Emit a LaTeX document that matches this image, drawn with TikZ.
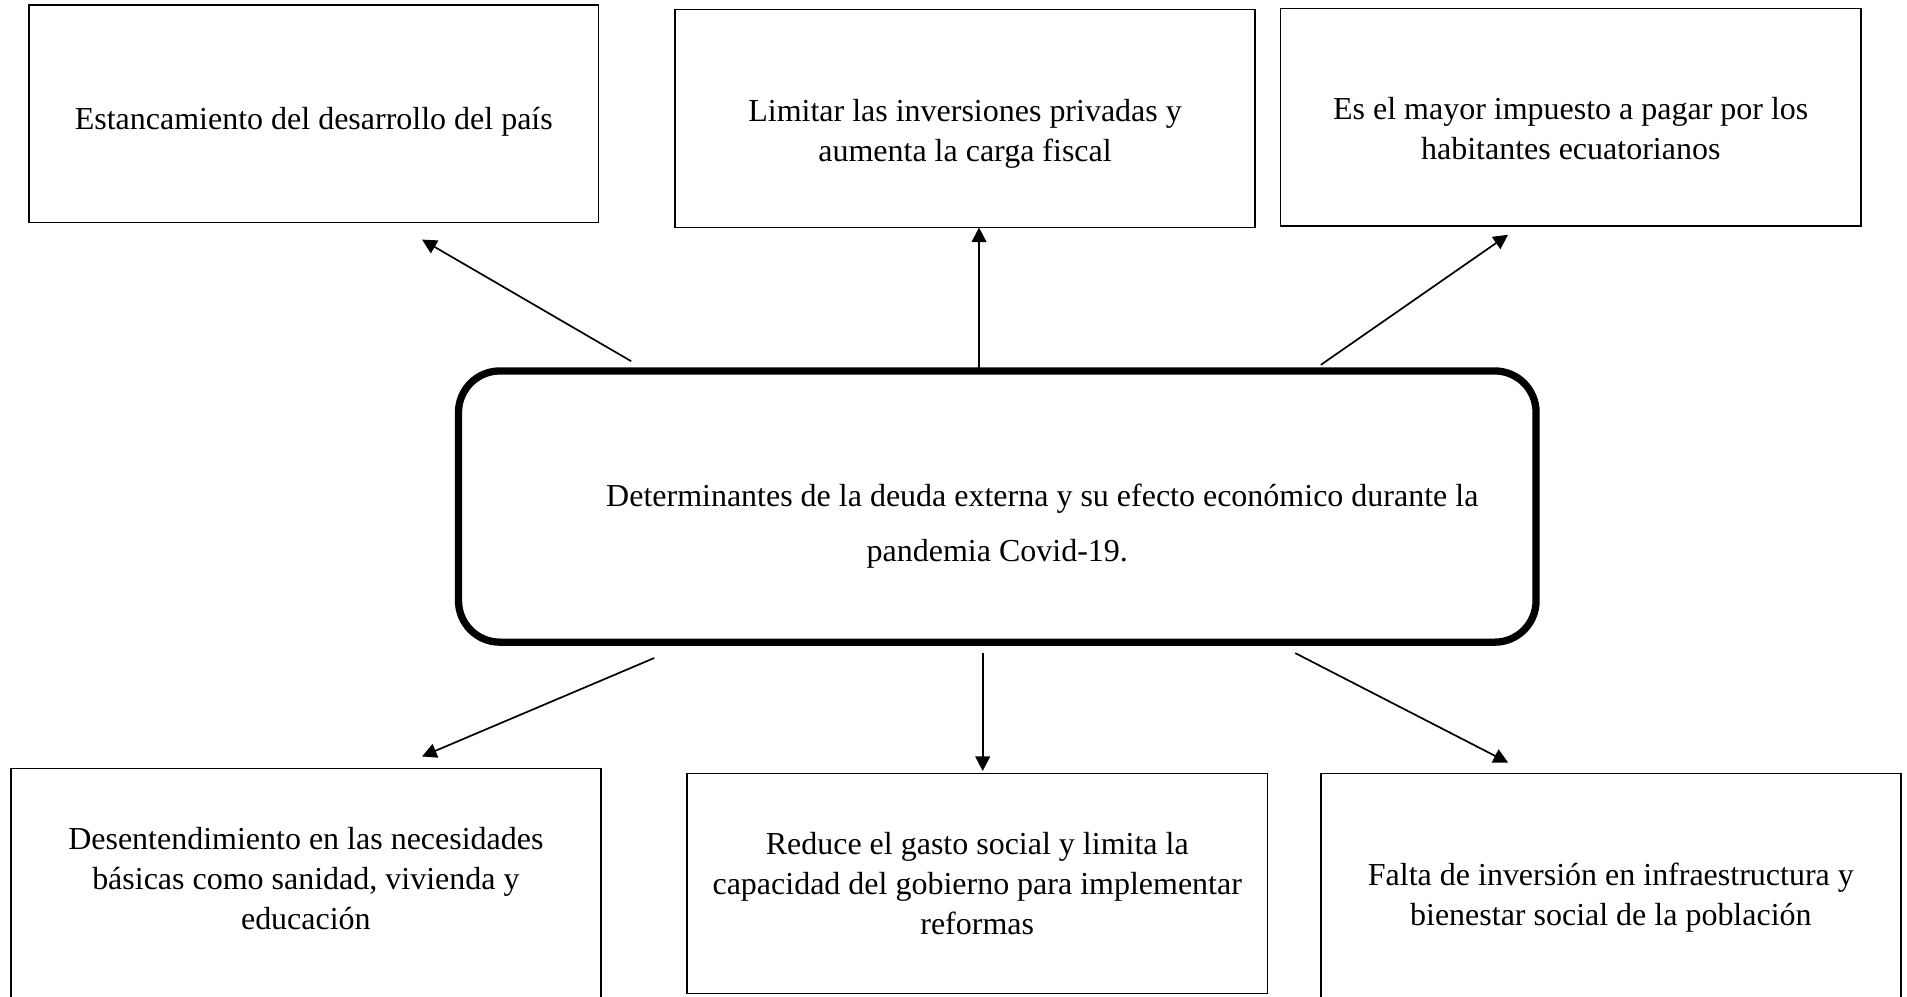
\documentclass[tikz,border=0pt]{standalone}
\usepackage{fontspec}
\setmainfont{Liberation Serif}
\usepackage{tikz}
\usetikzlibrary{shapes,arrows,positioning,calc,arrows.meta}

\begin{document}
\begin{tikzpicture}[x=0.5pt, y=0.5pt, outer sep=0pt,
    effect/.style={draw, rectangle, line width=0.6pt, inner sep=0pt, align=center, font=\fontsize{13.15}{16.5}\selectfont},
    core/.style={draw, rectangle, rounded corners=17pt, line width=3pt, inner sep=0pt, align=center, font=\fontsize{13.15}{22.5}\selectfont},
    padtop/.style={execute at begin node={\rule{0pt}{#1}}},
    padbot/.style={execute at end node={\rule[-#1]{0pt}{#1}}},
    link/.style={-{Triangle[length=6pt, width=6pt]}, line width=0.7pt}]
    \useasboundingbox (0,0) rectangle (1568,-819);
    \node [core, minimum width=443pt, minimum height=111.5pt, padtop=48pt] (deuda) at (820,-416.5) {\hspace*{37pt}Determinantes de la deuda externa y su efecto económico durante la\\ pandemia Covid-19.};
    \node [effect, minimum width=234pt, minimum height=89.5pt, padtop=15.5pt] (e1) at (258,-93.5) {Estancamiento del desarrollo del país};
    \node [effect, minimum width=238.5pt, minimum height=89.5pt, padtop=38pt] (e2) at (793.5,-97.5) {Limitar las inversiones privadas y\\ aumenta la carga fiscal};
    \node [effect, minimum width=238.5pt, minimum height=89.5pt, padtop=35pt] (e3) at (1291.5,-96.5) {Es el mayor impuesto a pagar por los\\ habitantes ecuatorianos};
    \node [effect, minimum width=242.5pt, minimum height=100pt, padbot=9.5pt] (e4) at (251.5,-732) {Desentendimiento en las necesidades\\ básicas como sanidad, vivienda y\\ educación};
    \node [effect, minimum width=238.5pt, minimum height=90.5pt] (e5) at (803.5,-726.5) {Reduce el gasto social y limita la\\ capacidad del gobierno para implementar\\ reformas};
    \node [effect, minimum width=238.5pt, minimum height=99pt, padtop=28.5pt] (e6) at (1324.5,-735) {Falta de inversión en infraestructura y\\ bienestar social de la población};
    \draw [link] ($(deuda.north)+(-301,8)$) -- ($(e1.south)+(89,-14)$);
    \draw [link] ($(deuda.north)+(-15,0)$) -- ($(e2.south)+(11.5,0)$);
    \draw [link] ($(deuda.north)+(266,5)$) -- ($(e3.south)+(-51.5,-7)$);
    \draw [link] ($(deuda.south)+(-282,-13)$) -- ($(e4.north)+(95.5,10)$);
    \draw [link] ($(deuda.south)+(-12,-9)$) -- ($(e5.north)+(4.5,2)$);
    \draw [link] ($(deuda.south)+(245,-9)$) -- ($(e6.north)+(-84.5,9)$);
\end{tikzpicture}
\end{document}
